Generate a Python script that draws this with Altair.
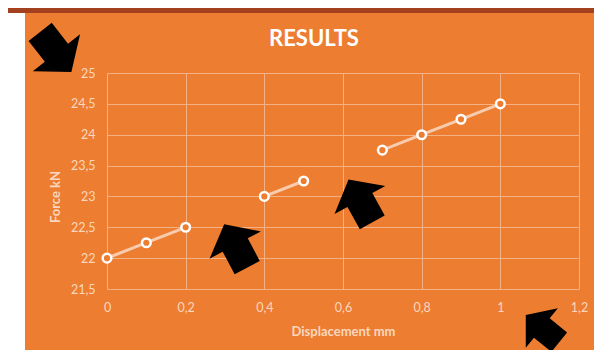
import altair as alt
import pandas as pd

# ---- data ----
disp = [0, 0.1, 0.2, 0.3, 0.4, 0.5, 0.6, 0.7, 0.8, 0.9, 1.0]
force = [22.0, 22.25, 22.5, None, 23.0, 23.25, None, 23.75, 24.0, 24.25, 24.5]

x_ticks = [0, 0.2, 0.4, 0.6, 0.8, 1.0, 1.2]
y_ticks = [21.5, 22, 22.5, 23, 23.5, 24, 24.5, 25]

# black block-arrow annotations (data coordinates, rotation, size)
arrow_x = [-0.13, 0.327, 0.644, 1.107]
arrow_y = [25.34, 22.20, 22.93, 20.86]
arrow_angle = [142, 332, 331, 309]
arrow_size = [3600, 3364, 3364, 2600]

ORANGE = "#ED7D31"
LABEL = "#FAD7BE"
GRID = "#F4B183"
FONT = "Lato"

rows = []
seg = 0
for xv, yv in zip(disp, force):
    if yv is None:
        seg += 1
        continue
    rows.append({"x": xv, "y": yv, "seg": seg})
df = pd.DataFrame(rows)

arrows = pd.DataFrame({"x": arrow_x, "y": arrow_y, "angle": arrow_angle, "size": arrow_size})
one = pd.DataFrame({"k": [0]})

xscale = alt.Scale(domain=[0, 1.2], nice=False, zero=False)
yscale = alt.Scale(domain=[21.5, 25], nice=False, zero=False)

x_enc = alt.X(
    "x:Q", scale=xscale,
    axis=alt.Axis(
        values=x_ticks, tickCount=20,
        labelExpr="replace(format(datum.value, '.1~f'), '.', ',')",
        title="Displacement mm", grid=True, gridColor=GRID, gridWidth=1,
        domain=False, ticks=False, tickSize=0, labelPadding=12, labelFlush=False,
        labelOverlap=False,
        labelColor=LABEL, labelFont=FONT, labelFontSize=12.5,
        titleColor=LABEL, titleFont=FONT, titleFontSize=13, titleFontWeight="bold",
        titleX=236, titleY=42, titleBaseline="middle", titleAlign="center",
    ),
)
y_enc = alt.Y(
    "y:Q", scale=yscale,
    axis=alt.Axis(
        values=y_ticks, tickCount=20,
        labelExpr="replace(format(datum.value, '.1~f'), '.', ',')",
        title=None, grid=True, gridColor=GRID, gridWidth=1,
        domain=False, ticks=False, tickSize=0, labelPadding=12,
        labelOverlap=False,
        labelColor=LABEL, labelFont=FONT, labelFontSize=12.5,
    ),
)

white_strip = alt.Chart(one).mark_rect(color="white").encode(
    x=alt.value(-99), x2=alt.value(-82), y=alt.value(-65), y2=alt.value(290)
)
red_bar = alt.Chart(one).mark_rect(color="#A3401F").encode(
    x=alt.value(-99), x2=alt.value(500), y=alt.value(-65), y2=alt.value(-60)
)

line = alt.Chart(df).mark_line(color="#F8CBAD", strokeWidth=3).encode(
    x=x_enc, y=y_enc, detail="seg:N"
)
points = alt.Chart(df).mark_point(
    shape="circle", fill=ORANGE, stroke="white", strokeWidth=2.5, size=75,
    opacity=1, fillOpacity=1,
).encode(x=alt.X("x:Q", scale=xscale), y=alt.Y("y:Q", scale=yscale))

ARROW = "M0,-0.84 L1,-0.03 L0.49,-0.03 L0.49,0.85 L-0.49,0.85 L-0.49,-0.03 L-1,-0.03 Z"
arrow_marks = alt.Chart(arrows).mark_point(
    shape=ARROW, filled=True, color="black", opacity=1, strokeWidth=0
).encode(
    x=alt.X("x:Q", scale=xscale),
    y=alt.Y("y:Q", scale=yscale),
    angle=alt.Angle("angle:Q", scale=None),
    size=alt.Size("size:Q", scale=None),
)

y_title = alt.Chart(one).mark_text(
    text="Force kN", font=FONT, fontSize=13, fontWeight="bold", color=LABEL,
    align="center", baseline="middle", angle=270,
).encode(x=alt.value(-51), y=alt.value(124))

title = alt.Chart(one).mark_text(
    text="RESULTS", font=FONT, fontSize=22, fontWeight="bold", color="white",
    align="center", baseline="middle",
).encode(x=alt.value(207), y=alt.value(-34))

chart = alt.layer(white_strip, red_bar, line, points, arrow_marks, y_title, title).properties(
    width=472, height=216,
    padding={"left": 99, "top": 65, "right": 15, "bottom": 61},
    autosize="none",
).configure(background=ORANGE).configure_view(stroke=None)

chart.save("out.html", embed_options={"renderer": "svg", "actions": False})
